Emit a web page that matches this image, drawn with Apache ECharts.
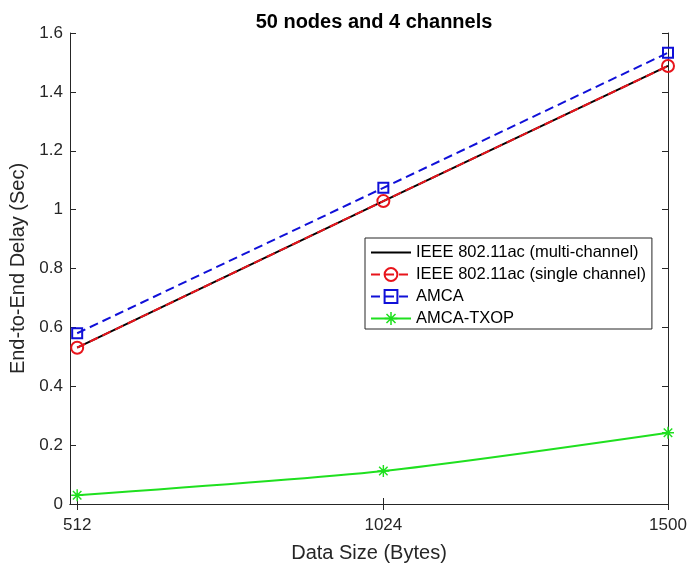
<!DOCTYPE html>
<html>
<head>
<meta charset="utf-8">
<script src="https://cdn.jsdelivr.net/npm/echarts@6/dist/echarts.min.js"></script>
<style>
  html, body { margin: 0; padding: 0; background: #fff; }
  #chart { width: 690px; height: 568px; }
</style>
</head>
<body>
<div id="chart"></div>
<script>
(function () {
  const data_sizes = [512, 1024, 1500];
  const multi_channel = [0.531, 1.029, 1.488];
  const single_channel = [0.531, 1.029, 1.488];
  const amca = [0.58, 1.074, 1.533];
  const amca_txop = [0.03, 0.112, 0.242];
  const x_ticks = [512, 1024, 1500];

  const font = '"Liberation Sans", Arial, Helvetica, sans-serif';
  const axis_color = '#262626';
  // asterisk marker built from thin bars
  const star = 'path://M-1.2,-10 L1.2,-10 L1.2,10 L-1.2,10 Z M-10,-1.2 L10,-1.2 L10,1.2 L-10,1.2 Z ' +
      'M-7.9,-6.2 L-6.2,-7.9 L7.9,6.2 L6.2,7.9 Z M6.2,-7.9 L7.9,-6.2 L-6.2,7.9 L-7.9,6.2 Z';

  const pairs = (ys) => data_sizes.map((x, i) => [x, ys[i]]);

  var chart = echarts.init(document.getElementById('chart'));
  option = {
      animation: false,
      backgroundColor: '#fff',
      title: {
          text: '50 nodes and 4 channels',
          left: 369,
          textAlign: 'center',
          top: 7,
          textStyle: { fontFamily: font, fontSize: 20, fontWeight: 'bold', color: '#000' }
      },
      legend: {
          orient: 'vertical',
          left: 365,
          top: 238,
          padding: [6, 6, 2, 5],
          itemGap: 5,
          itemWidth: 40,
          itemHeight: 16,
          borderColor: '#262626',
          borderWidth: 1,
          borderRadius: 0,
          backgroundColor: '#fff',
          textStyle: { fontFamily: font, fontSize: 16.5, color: '#000' },
          data: [
              { name: 'IEEE 802.11ac (multi-channel)', itemStyle: { opacity: 0 } },
              'IEEE 802.11ac (single channel)', 'AMCA', 'AMCA-TXOP'
          ]
      },
      grid: { left: 70, right: 22, top: 33, bottom: 64 },
      xAxis: [{
          type: 'value',
          min: 500,
          max: 1500,
          name: 'Data Size (Bytes)',
          nameLocation: 'middle',
          nameGap: 39,
          nameTextStyle: { fontFamily: font, fontSize: 20, color: axis_color },
          axisLine: { lineStyle: { color: axis_color, width: 1 } },
          axisTick: { inside: true, length: 6, customValues: x_ticks, lineStyle: { color: axis_color } },
          axisLabel: {
              customValues: x_ticks, fontFamily: font, fontSize: 17, color: axis_color, margin: 13,
              formatter: (v) => String(v)
          },
          splitLine: { show: false }
      }, {
          type: 'value',
          position: 'top',
          min: 500,
          max: 1500,
          axisLine: { lineStyle: { color: axis_color, width: 1 } },
          axisTick: { inside: true, length: 6, customValues: x_ticks, lineStyle: { color: axis_color } },
          axisLabel: { show: false },
          splitLine: { show: false }
      }],
      yAxis: [{
          type: 'value',
          min: 0,
          max: 1.6,
          interval: 0.2,
          name: 'End-to-End Delay (Sec)',
          nameLocation: 'middle',
          nameGap: 38,
          nameTextStyle: { fontFamily: font, fontSize: 20, color: axis_color },
          axisLine: { show: true, lineStyle: { color: axis_color, width: 1 } },
          axisTick: { show: true, inside: true, length: 6, lineStyle: { color: axis_color } },
          axisLabel: { fontFamily: font, fontSize: 17, color: axis_color, margin: 7 },
          splitLine: { show: false }
      }, {
          type: 'value',
          position: 'right',
          min: 0,
          max: 1.6,
          interval: 0.2,
          axisLine: { show: true, lineStyle: { color: axis_color, width: 1 } },
          axisTick: { show: true, inside: true, length: 6, lineStyle: { color: axis_color } },
          axisLabel: { show: false },
          splitLine: { show: false }
      }],
      series: [{
          name: 'IEEE 802.11ac (multi-channel)',
          type: 'line',
          symbol: 'none',
          itemStyle: { color: '#000' },
          lineStyle: { color: '#000', width: 2 },
          data: pairs(multi_channel)
      }, {
          name: 'IEEE 802.11ac (single channel)',
          type: 'line',
          symbol: 'circle',
          symbolSize: 12,
          itemStyle: { color: 'transparent', borderColor: '#e8141b', borderWidth: 2 },
          lineStyle: { color: '#e8141b', width: 2, type: [9, 5] },
          data: pairs(single_channel)
      }, {
          name: 'AMCA',
          type: 'line',
          symbol: 'rect',
          symbolSize: 10,
          itemStyle: { color: 'transparent', borderColor: '#1010d8', borderWidth: 2 },
          lineStyle: { color: '#1010d8', width: 2, type: [9, 5] },
          data: pairs(amca)
      }, {
          name: 'AMCA-TXOP',
          type: 'line',
          smooth: 0.25,
          symbol: star,
          symbolSize: 12,
          itemStyle: { color: '#1fe01f' },
          lineStyle: { color: '#1fe01f', width: 2 },
          data: pairs(amca_txop)
      }]
  };

  chart.setOption(option);
})();
</script>
</body>
</html>
